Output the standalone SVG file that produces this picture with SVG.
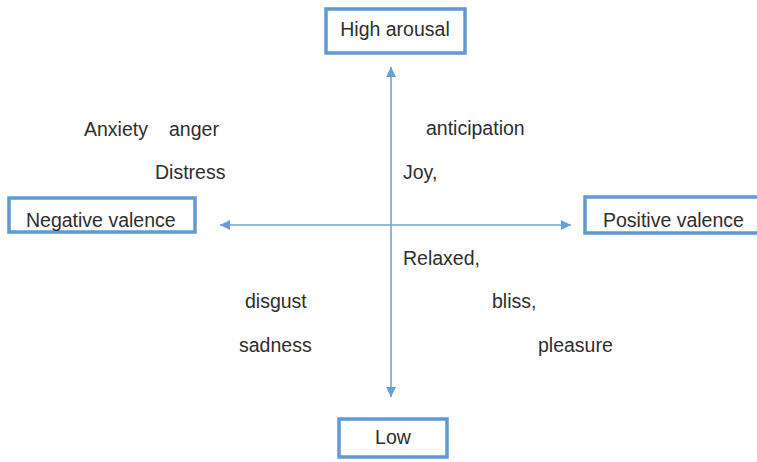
<svg xmlns="http://www.w3.org/2000/svg" width="757" height="462" viewBox="0 0 757 462">
  <style>
    .box rect { fill: #ffffff; stroke: #5f9bd2; stroke-width: 3.5; }
    .lbl { font-family: "Liberation Sans", Arial, sans-serif; font-size: 19.5px; fill: #2e2e2e; }
    .mid { text-anchor: middle; }
    .axis { stroke: #74a3cc; stroke-width: 1.6; fill: none; }
  </style>
  <defs>
    <marker id="head" viewBox="0 0 10 10" refX="10" refY="5" markerWidth="12" markerHeight="10" markerUnits="userSpaceOnUse" orient="auto">
      <path d="M0,0 L10,5 L0,10 z" fill="#6a9fcf"/>
    </marker>
  </defs>

  <rect width="757" height="462" fill="#ffffff"/>

  <!-- axes: arousal (vertical) and valence (horizontal) -->
  <g id="connectors">
    <line class="axis" x1="391" y1="226" x2="391" y2="67" marker-end="url(#head)"/>
    <line class="axis" x1="391" y1="226" x2="391" y2="397" marker-end="url(#head)"/>
    <line class="axis" x1="391" y1="225" x2="220" y2="225" marker-end="url(#head)"/>
    <line class="axis" x1="391" y1="225" x2="571" y2="225" marker-end="url(#head)"/>
  </g>

  <g id="high-arousal" class="box">
    <rect x="326" y="9" width="139" height="44"/>
    <text class="lbl mid" x="395" y="36">High arousal</text>
  </g>

  <g id="negative-valence" class="box">
    <rect x="9" y="198" width="186" height="34"/>
    <text class="lbl" x="26" y="227">Negative valence</text>
  </g>

  <g id="positive-valence" class="box">
    <rect x="585" y="197" width="180" height="36"/>
    <text class="lbl" x="603" y="227">Positive valence</text>
  </g>

  <g id="low" class="box">
    <rect x="339" y="419" width="108" height="38"/>
    <text class="lbl mid" x="393" y="444">Low</text>
  </g>

  <!-- emotion words placed in the quadrants -->
  <g id="emotions">
    <text class="lbl" x="84" y="136">Anxiety</text>
    <text class="lbl" x="169" y="136">anger</text>
    <text class="lbl" x="155" y="179">Distress</text>
    <text class="lbl" x="426" y="135">anticipation</text>
    <text class="lbl" x="403" y="179">Joy,</text>
    <text class="lbl" x="403" y="265">Relaxed,</text>
    <text class="lbl" x="245" y="308">disgust</text>
    <text class="lbl" x="492" y="308">bliss,</text>
    <text class="lbl" x="239" y="352">sadness</text>
    <text class="lbl" x="538" y="352">pleasure</text>
  </g>
</svg>
